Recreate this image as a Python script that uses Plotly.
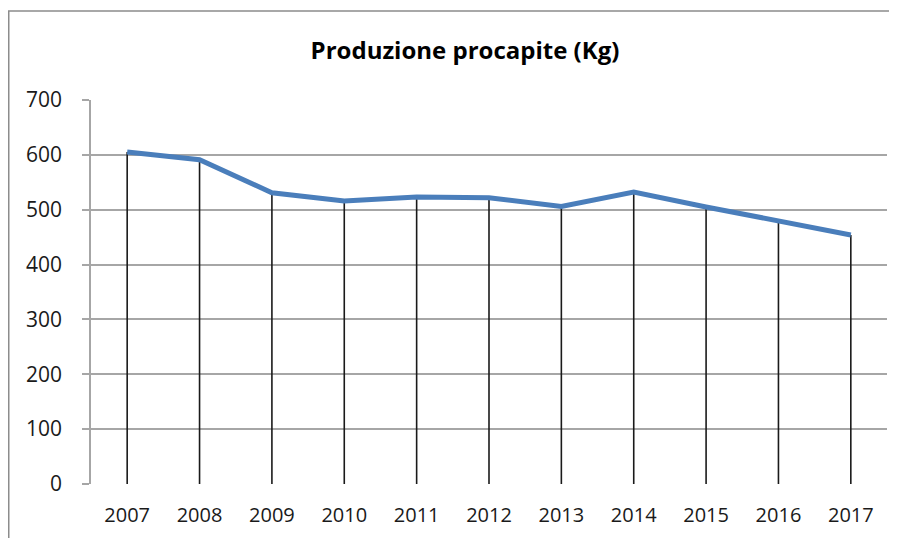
import plotly.graph_objects as go

years = ["2007", "2008", "2009", "2010", "2011", "2012", "2013", "2014", "2015", "2016", "2017"]
produzione = [605, 591, 531, 516, 523, 522, 506, 532, 505, 480, 454]
y_ticks = [0, 100, 200, 300, 400, 500, 600, 700]

# page has an 8px body margin, so the figure is offset by (8, 8)
OFF = 8
W, H = 897 - OFF, 538 - OFF
L, R, T, B = 91 - OFF, 10, 100 - OFF, 54
pw, ph = W - L - R, H - T - B

fig = go.Figure()
# vertical drop lines from each point to zero
fig.add_trace(go.Scatter(
    x=years, y=produzione, mode="markers", marker=dict(size=1, opacity=0),
    error_y=dict(type="data", symmetric=False, array=[0] * len(produzione),
                 arrayminus=produzione, width=0, color="#1a1a1a", thickness=1.6),
    hoverinfo="skip", showlegend=False))
fig.add_trace(go.Scatter(
    x=years, y=produzione, mode="lines",
    line=dict(color="#4a7ebb", width=5), showlegend=False))

font_family = "'Open Sans', Lato, sans-serif"
fig.update_layout(
    width=W, height=H,
    margin=dict(l=L, r=R, t=T, b=B),
    paper_bgcolor="white", plot_bgcolor="white",
    title=dict(text="<b>Produzione procapite (Kg)</b>", x=(465 - OFF) / W, xanchor="center",
               y=1 - (51 - OFF) / H, yanchor="middle", yref="container",
               font=dict(family=font_family, size=24, color="#000000")),
    xaxis=dict(type="category", range=[-0.5, 10.5], showgrid=False, showline=False,
               zeroline=False, ticks="", tickfont=dict(family=font_family, size=20, color="#1a1a1a"),
               ticklabelstandoff=17),
    yaxis=dict(range=[0, 700], tickvals=y_ticks, showgrid=True, gridcolor="#a6a6a6",
               gridwidth=1.5, showline=True, linecolor="#a6a6a6", linewidth=1.5,
               zeroline=False, ticks="outside", ticklen=7, tickcolor="#a6a6a6", tickwidth=1.5,
               tickfont=dict(family=font_family, size=21, color="#1a1a1a"),
               ticklabelstandoff=16),
    shapes=[dict(type="rect", xref="paper", yref="paper",
                 x0=(8 - OFF - L + 0.75) / pw, x1=(W + 20 - L) / pw,
                 y0=(H - B - (H + 20)) / ph, y1=(H - B - (11 - OFF)) / ph,
                 line=dict(color="#8c8c8c", width=1.5), fillcolor="rgba(0,0,0,0)",
                 layer="below")],
)
fig.write_html("out.html")
